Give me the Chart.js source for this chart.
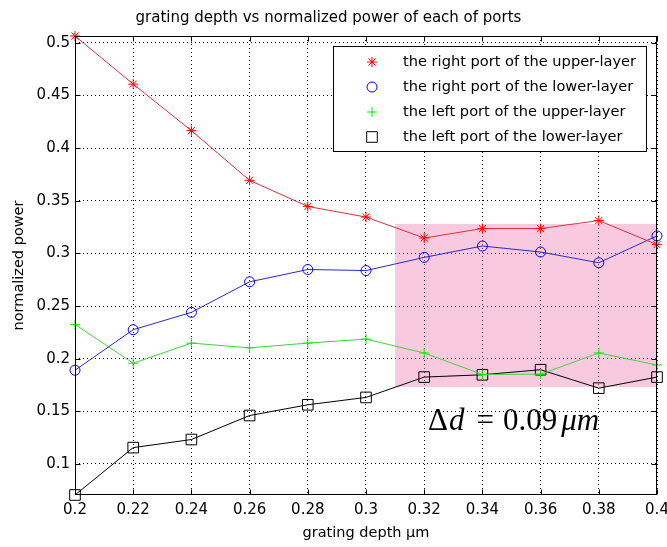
<!DOCTYPE html>
<html>
<head>
<meta charset="utf-8">
<script src="https://cdn.jsdelivr.net/npm/chart.js@4.4.0/dist/chart.umd.min.js"></script>
<style>
  html, body { margin: 0; padding: 0; background: #fff; }
</style>
</head>
<body>
<canvas id="portsChart" width="667" height="547"></canvas>
<script>
// grating depth (um) on the x axis
const depths = [0.2, 0.22, 0.24, 0.26, 0.28, 0.3, 0.32, 0.34, 0.36, 0.38, 0.4];

// normalized power per port
const rightUpper = [0.5065, 0.4608, 0.4166, 0.3694, 0.3446, 0.3345, 0.3146, 0.3236, 0.3236, 0.3312, 0.3083];
const rightLower = [0.1890, 0.2275, 0.2440, 0.2730, 0.2847, 0.2837, 0.2962, 0.3070, 0.3013, 0.2911, 0.3166];
const leftUpper  = [0.2326, 0.1957, 0.2148, 0.2103, 0.2148, 0.2186, 0.2054, 0.1850, 0.1853, 0.2054, 0.1940];
const leftLower  = [0.0705, 0.1155, 0.1232, 0.1460, 0.1562, 0.1632, 0.1825, 0.1847, 0.1895, 0.1720, 0.1825];

const seriesNames = [
    'the right port of the upper-layer',
    'the right port of the lower-layer',
    'the left port of the upper-layer',
    'the left port of the lower-layer'
];

const xTicks = [0.2, 0.22, 0.24, 0.26, 0.28, 0.3, 0.32, 0.34, 0.36, 0.38, 0.4];
const yTicks = [0.1, 0.15, 0.2, 0.25, 0.3, 0.35, 0.4, 0.45, 0.5];

// highlighted band and its note
const bandDepth = [0.31, 0.4];
const bandPower = [0.173, 0.328];
const noteAt = [0.3213, 0.1327];

const allValues = rightUpper.concat(rightLower, leftUpper, leftLower);
const toPoints = arr => arr.map((v, i) => ({ x: depths[i], y: v }));
const fmt = v => String(+Number(v).toFixed(2));

const tickFont = { family: 'DejaVu Sans', size: 15 };
const labelFont = { family: 'DejaVu Sans', size: 14.5 };

const matlabFrame = {
    id: 'matlabFrame',
    beforeDatasetsDraw(chart) {
        const { ctx, scales: { x, y } } = chart;
        const x0 = x.getPixelForValue(bandDepth[0]);
        const x1 = x.getPixelForValue(bandDepth[1]);
        const y0 = y.getPixelForValue(bandPower[1]);
        const y1 = y.getPixelForValue(bandPower[0]);
        ctx.save();
        ctx.fillStyle = 'rgba(240,120,175,0.4)';
        ctx.fillRect(x0, y0, x1 - x0, y1 - y0);
        ctx.restore();
    },
    afterDatasetsDraw(chart) {
        const { ctx, chartArea: a, scales: { x, y } } = chart;
        const L = Math.round(a.left) + 0.5, R = Math.round(a.right) - 0.5;
        const T = Math.round(a.top) + 0.5, B = Math.round(a.bottom) - 0.5;
        ctx.save();
        ctx.strokeStyle = '#000';
        ctx.lineWidth = 1;
        ctx.strokeRect(L, T, R - L, B - T);
        ctx.beginPath();
        xTicks.forEach(v => {
            const px = Math.round(x.getPixelForValue(v)) + 0.5;
            ctx.moveTo(px, B); ctx.lineTo(px, B - 5);
            ctx.moveTo(px, T); ctx.lineTo(px, T + 5);
        });
        yTicks.forEach(v => {
            const py = Math.round(y.getPixelForValue(v)) + 0.5;
            ctx.moveTo(L, py); ctx.lineTo(L + 5, py);
            ctx.moveTo(R, py); ctx.lineTo(R - 5, py);
        });
        ctx.stroke();

        // delta d note: [text, style, gap after]
        let nx = x.getPixelForValue(noteAt[0]);
        const ny = y.getPixelForValue(noteAt[1]);
        ctx.fillStyle = '#000';
        ctx.textBaseline = 'alphabetic';
        const parts = [
            ['Δ', '', 1], ['d', 'italic ', 12], ['=', '', 9], ['0.09', '', 4], ['μm', 'italic ', 0]
        ];
        parts.forEach(([txt, style, gap]) => {
            ctx.font = style + '31px "Liberation Serif"';
            ctx.fillText(txt, nx, ny);
            nx += ctx.measureText(txt).width + gap;
        });
        ctx.restore();
    },
    afterDraw(chart) {
        const { ctx } = chart;
        const box = { left: 333, top: 46, right: 647, bottom: 152 };
        ctx.save();
        ctx.fillStyle = '#fff';
        ctx.fillRect(box.left, box.top, box.right - box.left, box.bottom - box.top);
        ctx.strokeStyle = '#000';
        ctx.lineWidth = 1;
        ctx.strokeRect(box.left + 0.5, box.top + 0.5, box.right - box.left - 1, box.bottom - box.top - 1);
        ctx.font = '14.6px "DejaVu Sans"';
        ctx.textBaseline = 'middle';
        chart.data.datasets.forEach((ds, i) => {
            const ry = box.top + 16 + i * 25;
            ctx.strokeStyle = ds.pointBorderColor;
            ctx.fillStyle = 'rgba(0,0,0,0)';
            ctx.lineWidth = 1;
            Chart.helpers.drawPoint(ctx, {
                pointStyle: ds.pointStyle, radius: ds.pointRadius, borderWidth: 1, rotation: 0
            }, box.left + 39, ry);
            ctx.fillStyle = '#000';
            ctx.fillText(ds.label, box.left + 70, ry);
        });
        ctx.restore();
    }
};

const mk = (label, data, line, mark, style, radius) => ({
    label: label,
    data: toPoints(data),
    borderColor: line,
    borderWidth: 1,
    pointStyle: style,
    pointRadius: radius,
    pointHoverRadius: radius,
    pointBorderColor: mark,
    pointBorderWidth: 1,
    pointBackgroundColor: 'rgba(0,0,0,0)',
    tension: 0,
    clip: false
});

new Chart(document.getElementById('portsChart'), {
    type: 'line',
    data: {
        datasets: [
            mk(seriesNames[0], rightUpper, '#e0303a', '#ff0000', 'star', 5),
            mk(seriesNames[1], rightLower, '#2a2ad0', '#0000ff', 'circle', 5),
            mk(seriesNames[2], leftUpper, '#3ed43e', '#00ee00', 'cross', 5),
            mk(seriesNames[3], leftLower, '#000000', '#000000', 'rect', 7.5)
        ]
    },
    options: {
        responsive: false,
        animation: false,
        layout: { padding: { top: 0, right: 10, bottom: 0, left: 0 } },
        plugins: {
            legend: { display: false },
            tooltip: { enabled: false },
            title: {
                display: true,
                text: 'grating depth vs normalized power of each of ports',
                color: '#000',
                font: { family: 'DejaVu Sans', size: 15, weight: 'normal' },
                padding: { top: 9, bottom: 9 }
            }
        },
        scales: {
            x: {
                type: 'linear',
                min: xTicks[0],
                max: xTicks[xTicks.length - 1],
                afterBuildTicks: s => { s.ticks = xTicks.map(v => ({ value: v })); },
                afterFit: s => { s.height = 52; s.paddingLeft = 0; s.paddingRight = 0; },
                grid: { color: '#000', lineWidth: 1, drawTicks: false },
                border: { display: false, dash: [1, 3] },
                ticks: { color: '#000', font: tickFont, padding: 6, maxRotation: 0, autoSkip: false, callback: fmt },
                title: {
                    display: true, text: 'grating depth μm', color: '#000',
                    font: labelFont, padding: { top: 5, bottom: 5 }
                }
            },
            y: {
                type: 'linear',
                min: Math.min(...allValues),
                max: Math.max(...allValues),
                afterBuildTicks: s => { s.ticks = yTicks.map(v => ({ value: v })); },
                afterFit: s => { s.width = 75; s.paddingTop = 0; s.paddingBottom = 0; },
                grid: { color: '#000', lineWidth: 1, drawTicks: false },
                border: { display: false, dash: [1, 3] },
                ticks: { color: '#000', font: tickFont, padding: 5, callback: fmt },
                title: {
                    display: true, text: 'normalized power', color: '#000',
                    font: labelFont, padding: { top: 11, bottom: 11 }
                }
            }
        }
    },
    plugins: [matlabFrame]
});
</script>
</body>
</html>
